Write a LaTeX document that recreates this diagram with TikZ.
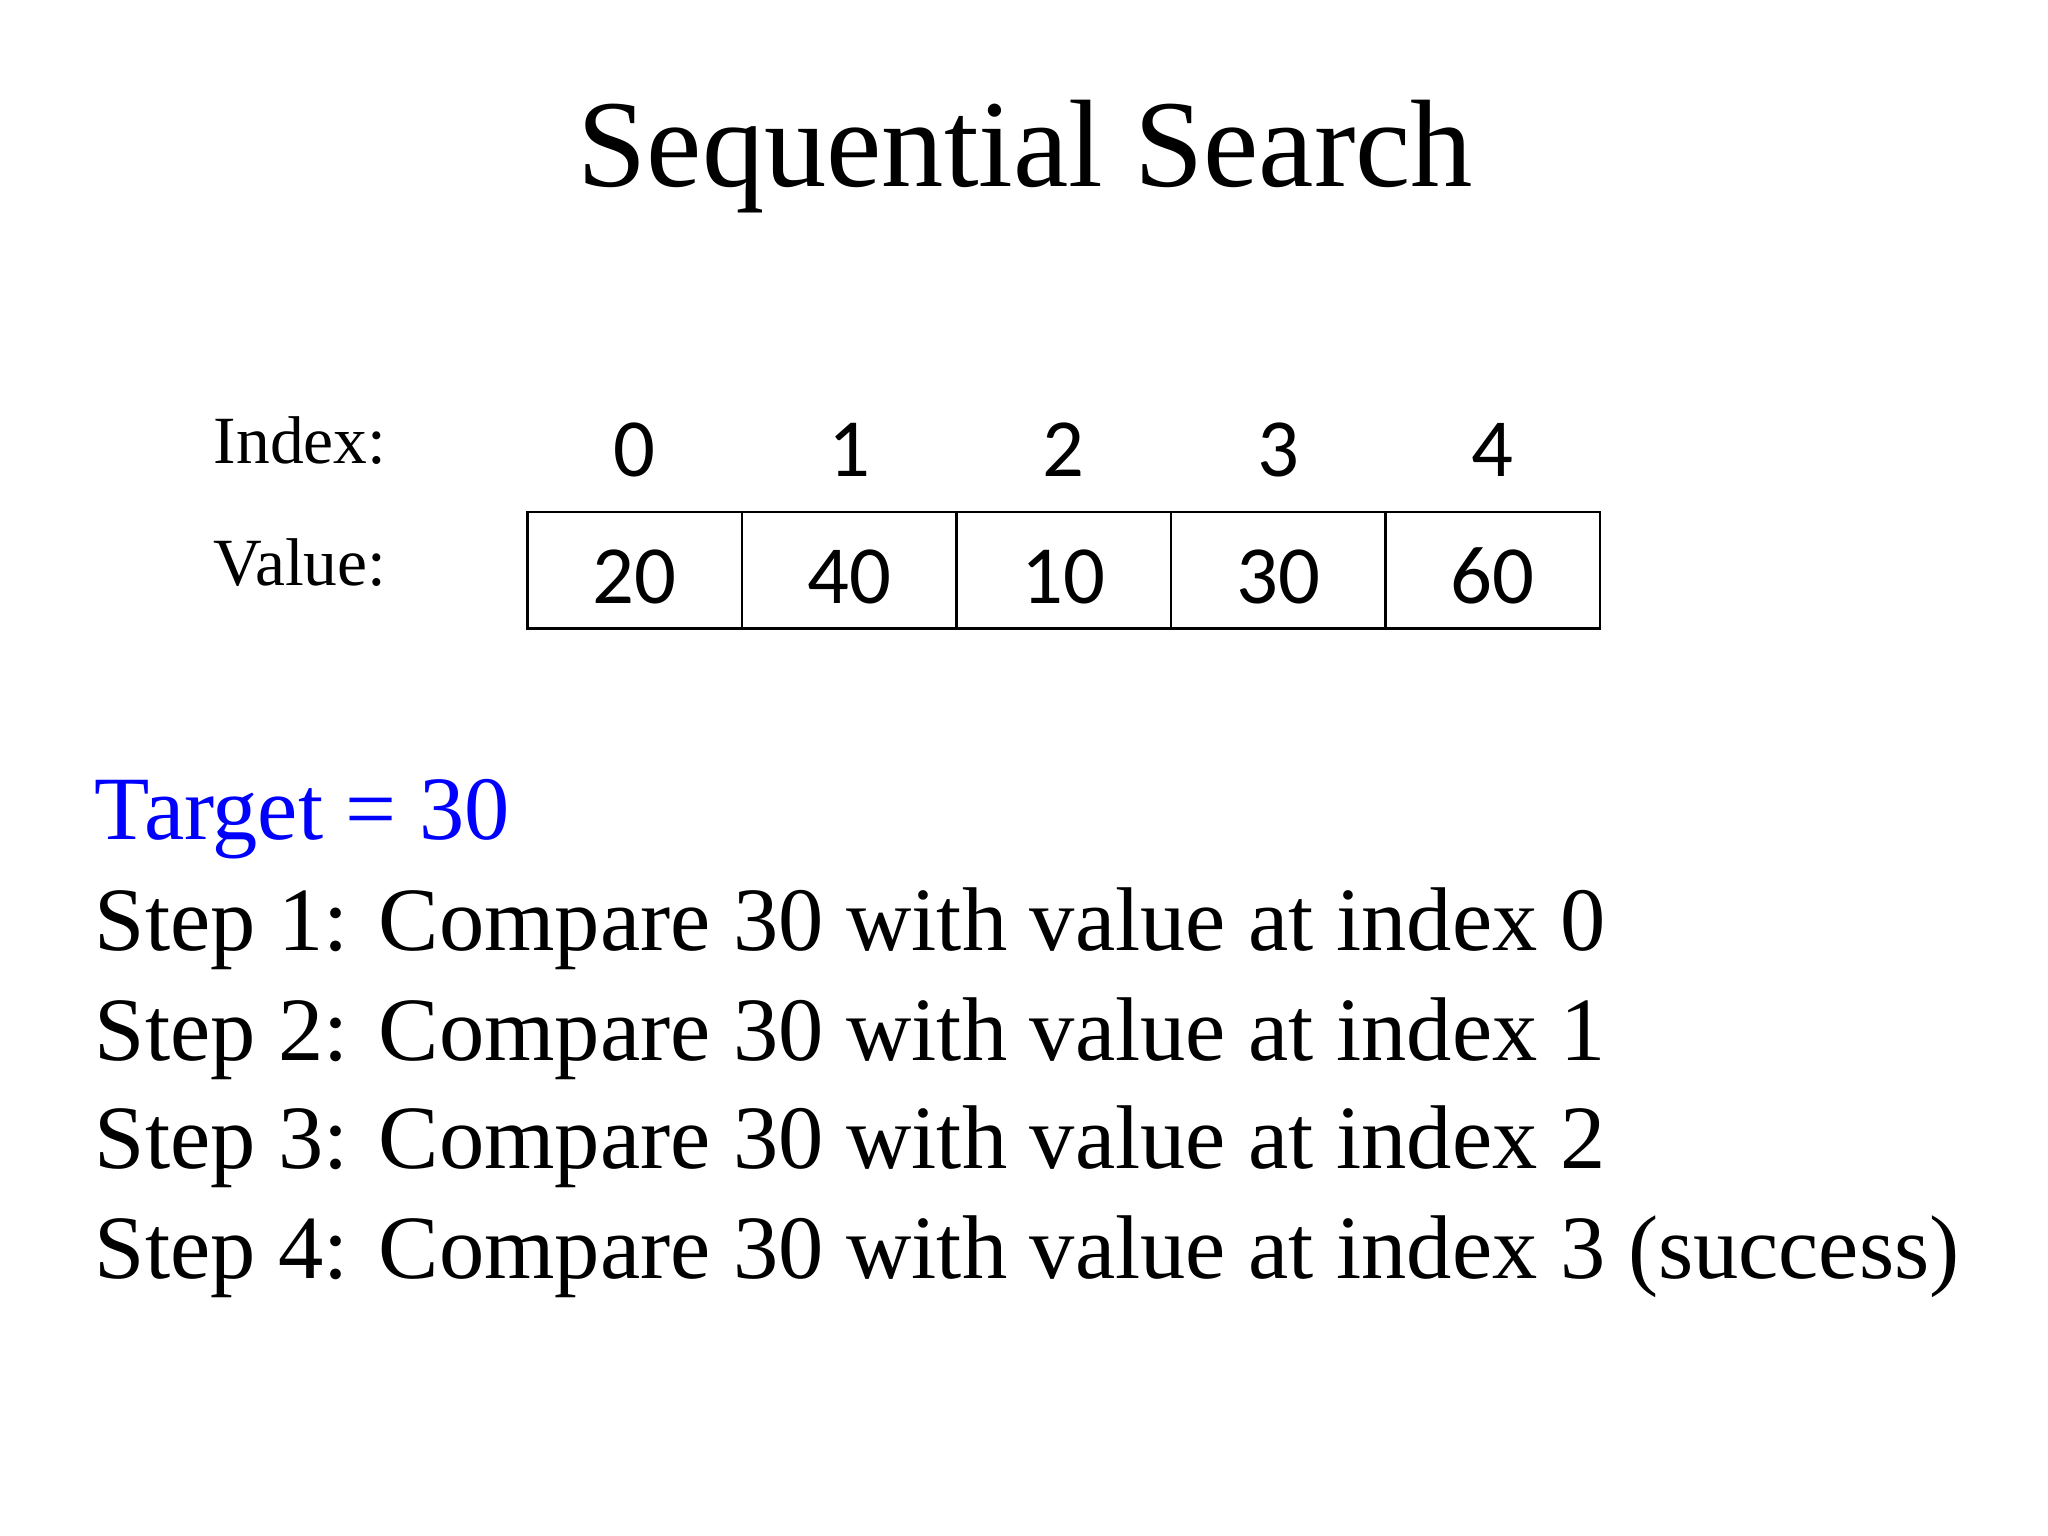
\documentclass[tikz,border=0pt]{standalone}
\usepackage{fontspec}
\setmainfont{Liberation Serif}
\newfontfamily\digitfont{Carlito}
\usetikzlibrary{positioning}

\begin{document}
\begin{tikzpicture}[x=0.01cm,y=-0.01cm,
    txt/.style={inner sep=0pt,anchor=base west,font=\fontsize{19.7}{23}\selectfont},
    lbl/.style={inner sep=0pt,anchor=base west,font=\fontsize{14.7}{17}\selectfont},
    idx/.style={inner sep=0pt,anchor=base,font=\digitfont\fontsize{18}{21}\selectfont},
    cell/.style={draw,line width=0.6pt,minimum width=1.642cm,minimum height=0.89cm,
        inner sep=0pt,text height=0.51cm,text depth=0pt,
        font=\digitfont\fontsize{18}{21}\selectfont}]
    \useasboundingbox (0,0) rectangle (1568,1176);
    % Title
    \node[inner sep=0pt,anchor=base,font=\fontsize{27.1}{32}\selectfont] (title)
        at (785,143) {Sequential Search};
    % Row labels
    \node[lbl] (index) at (163,355) {Index:};
    \node[lbl] (value) at (163,448) {Value:};
    % Array cells and indices
    \foreach \v [count=\i from 0] in {20,40,10,30,60} {
        \node[cell] (v\i) at (486+164.2*\i,436.5) {\v};
        \node[idx] (i\i) at (486+164.2*\i,365) {\i};
    }
    % Steps
    \node[txt,text=blue] (target) at (72,643) {Target = 30};
    \node[txt] (step1) at (72,728) {Step 1: Compare 30 with value at index 0};
    \node[txt] (step2) at (72,812) {Step 2: Compare 30 with value at index 1};
    \node[txt] (step3) at (72,895) {Step 3: Compare 30 with value at index 2};
    \node[txt] (step4) at (72,979) {Step 4: Compare 30 with value at index 3 (success)};
\end{tikzpicture}
\end{document}
